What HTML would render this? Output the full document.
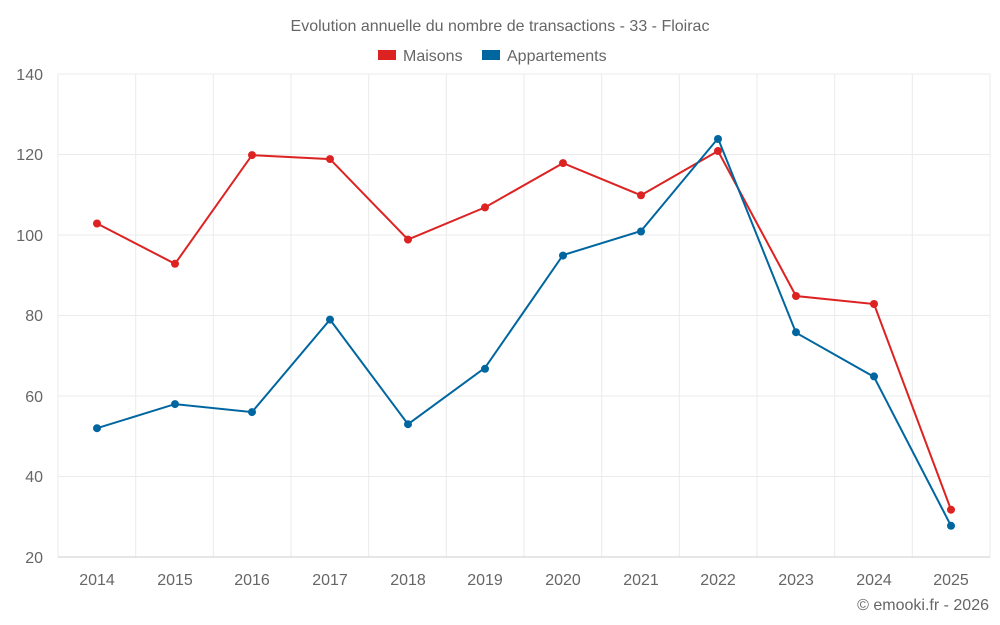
<!DOCTYPE html>
<html><head><meta charset="utf-8"><style>
body{margin:0;background:#fff;}
svg{display:block;font-family:"Liberation Sans",sans-serif;}
</style></head><body>
<svg width="1000" height="625" viewBox="0 0 1000 625">
<text x="500" y="31" text-anchor="middle" font-size="16" fill="#666">Evolution annuelle du nombre de transactions - 33 - Floirac</text>
<rect x="378" y="50" width="18" height="10" fill="#dd2222"/>
<text x="403" y="61" font-size="16" fill="#666">Maisons</text>
<rect x="482" y="50" width="18" height="10" fill="#0066a0"/>
<text x="507" y="61" font-size="16" fill="#666">Appartements</text>
<g stroke="#ebebeb" stroke-width="1">
<line x1="58" y1="74" x2="990" y2="74"/><line x1="58" y1="154.5" x2="990" y2="154.5"/><line x1="58" y1="235" x2="990" y2="235"/><line x1="58" y1="315.5" x2="990" y2="315.5"/><line x1="58" y1="396" x2="990" y2="396"/><line x1="58" y1="476.5" x2="990" y2="476.5"/>
<line x1="58" y1="74" x2="58" y2="557"/><line x1="135.7" y1="74" x2="135.7" y2="557"/><line x1="213.3" y1="74" x2="213.3" y2="557"/><line x1="291" y1="74" x2="291" y2="557"/><line x1="368.7" y1="74" x2="368.7" y2="557"/><line x1="446.3" y1="74" x2="446.3" y2="557"/><line x1="524" y1="74" x2="524" y2="557"/><line x1="601.7" y1="74" x2="601.7" y2="557"/><line x1="679.3" y1="74" x2="679.3" y2="557"/><line x1="757" y1="74" x2="757" y2="557"/><line x1="834.7" y1="74" x2="834.7" y2="557"/><line x1="912.3" y1="74" x2="912.3" y2="557"/><line x1="990" y1="74" x2="990" y2="557"/>
</g>
<line x1="58" y1="557" x2="990" y2="557" stroke="#ccc"/>
<g font-size="16" fill="#666" text-anchor="end">
<text x="43" y="80">140</text><text x="43" y="160">120</text><text x="43" y="241">100</text><text x="43" y="321">80</text><text x="43" y="402">60</text><text x="43" y="482">40</text><text x="43" y="563">20</text>
</g>
<g font-size="16" fill="#666" text-anchor="middle">
<text x="97" y="585">2014</text><text x="175" y="585">2015</text><text x="252" y="585">2016</text><text x="330" y="585">2017</text><text x="408" y="585">2018</text><text x="485" y="585">2019</text><text x="563" y="585">2020</text><text x="641" y="585">2021</text><text x="718" y="585">2022</text><text x="796" y="585">2023</text><text x="874" y="585">2024</text><text x="951" y="585">2025</text>
</g>
<text x="989" y="610" font-size="16" fill="#666" text-anchor="end">© emooki.fr - 2026</text>
<polyline fill="none" stroke="#dd2222" stroke-width="2" points="97,223.5 175,263.8 252,155.1 330,159.1 408,239.6 485,207.4 563,163.1 641,195.3 718,151 796,296 874,304 951,509.7"/>
<polyline fill="none" stroke="#0066a0" stroke-width="2" points="97,428.2 175,404.1 252,412.1 330,319.6 408,424.2 485,367.8 563,255.1 641,231 718,138.4 796,332.7 874,376.9 951,525.8"/>
<g fill="#dd2222"><circle cx="97" cy="223.5" r="4"/><circle cx="175" cy="263.8" r="4"/><circle cx="252" cy="155.1" r="4"/><circle cx="330" cy="159.1" r="4"/><circle cx="408" cy="239.6" r="4"/><circle cx="485" cy="207.4" r="4"/><circle cx="563" cy="163.1" r="4"/><circle cx="641" cy="195.3" r="4"/><circle cx="718" cy="151" r="4"/><circle cx="796" cy="296" r="4"/><circle cx="874" cy="304" r="4"/><circle cx="951" cy="509.7" r="4"/></g>
<g fill="#0066a0"><circle cx="97" cy="428.2" r="4"/><circle cx="175" cy="404.1" r="4"/><circle cx="252" cy="412.1" r="4"/><circle cx="330" cy="319.6" r="4"/><circle cx="408" cy="424.2" r="4"/><circle cx="485" cy="368.8" r="4"/><circle cx="563" cy="255.6" r="4"/><circle cx="641" cy="231.5" r="4"/><circle cx="718" cy="139" r="4"/><circle cx="796" cy="332.2" r="4"/><circle cx="874" cy="376.4" r="4"/><circle cx="951" cy="525.8" r="4"/></g>
</svg>
</body></html>
